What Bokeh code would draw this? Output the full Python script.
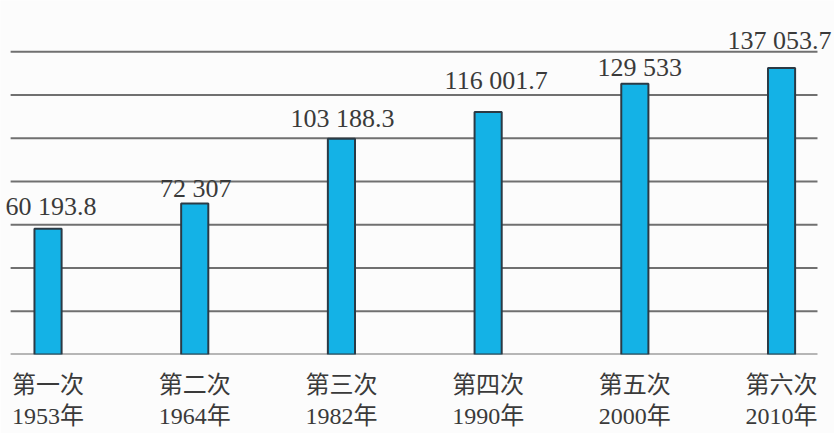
from bokeh.plotting import figure
from bokeh.models import ColumnDataSource, Range1d, LabelSet
from bokeh.models import FixedTicker
from bokeh.embed import file_html
from bokeh.resources import INLINE

# Population at each national census (unit: 10,000 people)
censuses = ["第一次", "第二次", "第三次", "第四次", "第五次", "第六次"]
years = ["1953年", "1964年", "1982年", "1990年", "2000年", "2010年"]
population = [60193.8, 72307, 103188.3, 116001.7, 129533, 137053.7]
value_labels = ["60 193.8", "72 307", "103 188.3", "116 001.7", "129 533", "137 053.7"]
grid_values = [0, 20700, 41400, 62100, 82800, 103500, 124200, 144900]

# hand placement of the value labels above each bar (screen pixels)
label_dx = [3, 1, 1, 8, 5, -2]
label_dy = [8, 0, 6, 17, 2, 13]

xs = list(range(len(censuses)))
src = ColumnDataSource(dict(x=xs, top=population, label=value_labels,
                            dx=label_dx, dy=label_dy))

FONT = "'Liberation Serif', 'Times New Roman', 'Noto Sans CJK SC', serif"
INK = "#3a3a3a"

p = figure(width=834, height=433, output_backend="svg", toolbar_location=None,
           x_range=Range1d(-0.324, 5.361), y_range=Range1d(0, 169400),
           min_border_left=0, min_border_right=0, min_border_top=0,
           min_border_bottom=79, background_fill_color="#fcfcfc",
           border_fill_color="#fcfcfc", outline_line_color=None)

# horizontal rules, drawn as segments so they stop short of the page edges
p.segment(x0=-0.255, x1=5.245, y0=grid_values, y1=grid_values,
          line_color="#707070", line_width=2)

p.vbar(x="x", top="top", width=0.185, source=src, fill_color="#14b2e6",
       line_color="#2b3a45", line_width=2)

labels = LabelSet(x="x", y="top", text="label", source=src, text_align="center",
                  text_baseline="bottom", x_offset="dx", y_offset="dy",
                  text_font=FONT, text_font_size="26px", text_color=INK)
p.add_layout(labels)

p.yaxis.visible = False
p.grid.visible = False

p.xaxis.ticker = FixedTicker(ticks=xs)
p.xaxis.major_label_overrides = {i: f"{c}\n{y}" for i, c, y in zip(xs, censuses, years)}
p.xaxis.axis_line_color = None
p.xaxis.major_tick_line_color = None
p.xaxis.minor_tick_line_color = None
p.xaxis.major_label_text_font = FONT
p.xaxis.major_label_text_font_size = "24px"
p.xaxis.major_label_text_color = INK
p.xaxis.major_label_standoff = 11

open("out.html", "w").write(file_html(p, INLINE))
